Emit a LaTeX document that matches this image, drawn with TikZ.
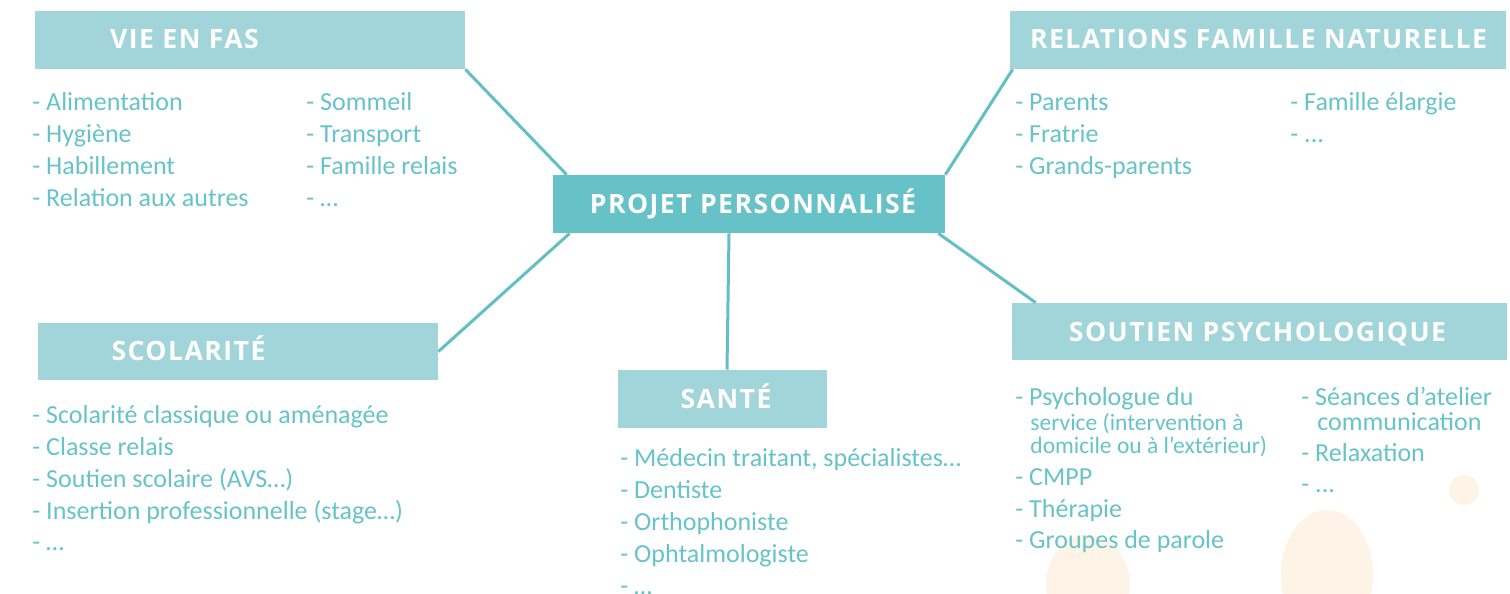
\documentclass[tikz,border=0pt]{standalone}
\usepackage{fontspec}
\setmainfont{Carlito}
\newfontfamily\headfont{Open Sans}[LetterSpace=5.5]
\usetikzlibrary{positioning}
\definecolor{boxlight}{HTML}{A1D5D9}
\definecolor{boxdark}{HTML}{66C2C6}
\definecolor{itemcol}{HTML}{66C3C7}
\definecolor{linkcol}{HTML}{62C0C4}
\definecolor{peach}{HTML}{FDF3E7}
\newcommand\plaindots{...}
\tikzset{
  hdbox/.style = {fill=boxlight, inner sep=0pt, minimum height=29pt},
  hdtext/.style = {text=white, anchor=base, inner sep=0pt, font=\headfont\bfseries\fontsize{13.3}{16}\selectfont},
  item/.style = {text=itemcol, anchor=base west, inner sep=0pt, font=\fontsize{13}{16}\selectfont},
  small/.style = {item, font=\fontsize{11.75}{14}\selectfont},
  link/.style = {draw=linkcol, line width=1.5pt}
}

\begin{document}
\begin{tikzpicture}[x=0.5pt,y=-0.5pt]
\useasboundingbox (0,0) rectangle (1510,594);
\clip (0,0) rectangle (1510,594);

% pale dots behind the psychologie list
\fill[peach] (1088,585) ellipse [x radius=42, y radius=50];
\fill[peach] (1327,575) ellipse [x radius=46, y radius=65];
\fill[peach] (1464,490) circle [radius=15];

% boxes
\node[hdbox, fill=boxdark, minimum width=196pt] (projet) at (749,204) {};
\node[hdbox, minimum width=215pt] (vie) at (250,40) {};
\node[hdbox, minimum width=248pt] (relations) at (1258,40) {};
\node[hdbox, minimum width=200pt, minimum height=28.5pt] (scol) at (238,351.5) {};
\node[hdbox, minimum width=104.5pt] (sante) at (722.5,399) {};
\node[hdbox, minimum width=247.5pt, minimum height=28.5pt] (soutien) at (1259.5,331.5) {};

\node[hdtext] (projetT) at (753,213) {PROJET PERSONNALISÉ};
\node[hdtext] (vieT) at (184.5,48) {VIE EN FAS};
\node[hdtext] (relationsT) at (1258.5,48) {RELATIONS FAMILLE NATURELLE};
\node[hdtext] (scolT) at (188.5,360) {SCOLARITÉ};
\node[hdtext] (santeT) at (726,408) {SANTÉ};
\node[hdtext] (soutienT) at (1257.5,341) {SOUTIEN PSYCHOLOGIQUE};

% links
\draw[link] (vie.south east) -- ([xshift=7pt]projet.north west);
\draw[link] ([xshift=1.5pt]relations.south west) -- (projet.north east);
\draw[link] (scol.east) -- ([xshift=8.5pt]projet.south west);
\draw[link] ([xshift=-10pt]projet.south) -- ([xshift=2.25pt]sante.north);
\draw[link] ([xshift=-3.5pt]projet.south east) -- ([xshift=12pt]soutien.north west);

% vie en fas
\foreach \t [count=\i] in {Alimentation, Hygiène, Habillement, Relation aux autres}
  \node[item] (vieA\i) at (32,78+32*\i) {- \t};
\foreach \t [count=\i] in {Sommeil, Transport, Famille relais, …}
  \node[item] (vieB\i) at (306,78+32*\i) {- \t};

% famille
\foreach \t [count=\i] in {Parents, Fratrie, Grands-parents}
  \node[item] (relA\i) at (1015,78+32*\i) {- \t};
\foreach \t [count=\i] in {Famille élargie, \plaindots}
  \node[item] (relB\i) at (1290,78+32*\i) {- \t};

% scolarite
\foreach \t [count=\i] in {Scolarité classique ou aménagée, Classe relais, Soutien scolaire (AVS…), Insertion professionnelle (stage…), …}
  \node[item] (scolA\i) at (32,392+31.75*\i) {- \t};

% sante
\foreach \t [count=\i] in {{Médecin traitant, spécialistes…}, Dentiste, Orthophoniste, Ophtalmologiste, …}
  \node[item] (santeA\i) at (620,434+32*\i) {- \t};

% soutien psy
\node[item] (psyA1) at (1015,405) {- Psychologue du};
\node[small] (psyA2) at (1030,430) {service (intervention à};
\node[small] (psyA3) at (1030,453) {domicile ou à l’extérieur)};
\node[item] (psyA4) at (1015,485) {- CMPP};
\node[item] (psyA5) at (1015,517) {- Thérapie};
\node[item] (psyA6) at (1015,548) {- Groupes de parole};
\node[item] (psyB1) at (1301,405) {- Séances d’atelier};
\node[item] (psyB2) at (1317,430) {communication};
\node[item] (psyB3) at (1301,461) {- Relaxation};
\node[item] (psyB4) at (1301,492) {- \plaindots};
\end{tikzpicture}
\end{document}
